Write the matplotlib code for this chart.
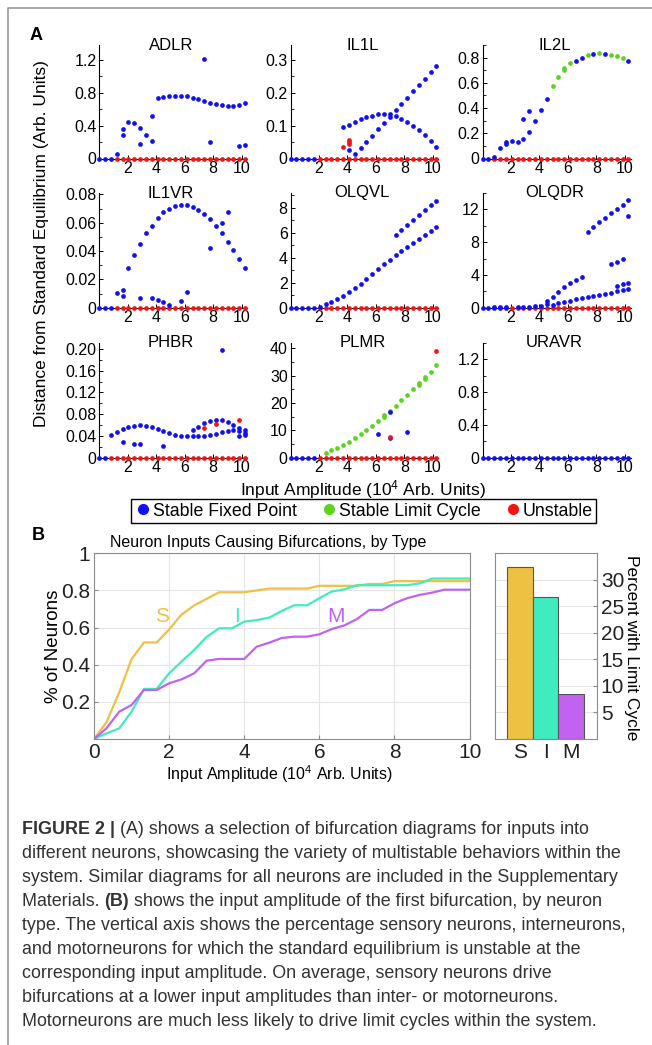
import matplotlib
matplotlib.use('Agg')
import matplotlib.pyplot as plt
from matplotlib.lines import Line2D
from matplotlib.ticker import AutoMinorLocator

plt.rcParams['font.family'] = ['Liberation Sans', 'DejaVu Sans']
plt.rcParams['mathtext.fontset'] = 'custom'
plt.rcParams['mathtext.rm'] = 'Liberation Sans'
plt.rcParams['mathtext.it'] = 'Liberation Sans:italic'
plt.rcParams['mathtext.bf'] = 'Liberation Sans:bold'

W, H = 652, 1045

# input amplitude grid of the bifurcation diagrams (10^4 arb. units)
amp = [0.0, 0.41, 0.82, 1.23, 1.64, 2.05, 2.46, 2.87, 3.28, 3.69, 4.1, 4.51, 4.92,
       5.33, 5.74, 6.15, 6.56, 6.97, 7.38, 7.79, 8.2, 8.61, 9.02, 9.43, 9.84, 10.25]

# --- panel A data: (grid index, distance) pairs -----------------------------
adlr_fixed = [(3, .05), (4, .36), (4, .29), (5, .44), (6, .43), (7, .37), (7, .18), (8, .29),
              (9, .52), (9, .21), (10, .73), (11, .75), (12, .76), (13, .76), (14, .76),
              (15, .755), (16, .74), (17, .72), (18, .70), (18, 1.21), (19, .68), (19, .20),
              (20, .66), (21, .65), (22, .64), (23, .635), (24, .645), (24, .15), (25, .675),
              (25, .16)]

il1l_fixed = [(9, .097), (10, .103), (11, .112), (12, .12), (13, .126), (14, .13), (15, .134),
              (16, .135), (17, .134), (18, .128), (19, .121), (20, .112), (21, .1), (22, .087),
              (23, .072), (24, .054), (25, .036),
              (10, .026), (11, .015), (12, .033), (13, .05), (14, .069), (15, .09), (16, .108),
              (17, .126), (18, .146), (19, .167), (20, .185), (21, .205), (22, .224), (23, .242),
              (24, .263), (25, .282)]
il1l_unstable = [(9, .035), (10, .043), (10, .05), (10, .055)]

il2l_fixed = [(2, .01), (3, .08), (4, .117), (4, .13), (5, .138), (6, .132), (7, .156), (7, .31),
              (8, .21), (8, .373), (9, .297), (10, .387), (11, .47), (16, .775), (17, .80),
              (19, .83), (21, .83), (25, .77)]
il2l_cycle = [(12, .575), (13, .645), (14, .70), (14, .72), (15, .755), (18, .82), (20, .84),
              (22, .82), (23, .81), (24, .80)]

il1vr_fixed = [(5, .0278), (6, .0372), (7, .045), (8, .0525), (9, .058), (10, .0635), (11, .0675),
               (12, .0700), (13, .0718), (14, .0725), (15, .0722), (16, .0708), (17, .0687),
               (18, .0661), (19, .0624), (20, .0576), (21, .0525), (22, .0466), (23, .0405),
               (24, .0341), (25, .028),
               (3, .0101), (4, .0122), (4, .0082), (7, .0066), (9, .0066), (10, .0054), (11, .004),
               (12, .002), (14, .005), (15, .0108), (19, .0424), (21, .0595), (22, .0678)]

olqvl_fixed = [(5, .08), (6, .27), (7, .48), (8, .67), (9, .94), (10, 1.24), (11, 1.57), (12, 1.94),
               (13, 2.31), (14, 2.71), (15, 3.11), (16, 3.49), (17, 3.84), (18, 4.19), (19, 4.51),
               (20, 4.86), (21, 5.21), (22, 5.53), (23, 5.85), (24, 6.12), (25, 6.47),
               (18, 5.85), (19, 6.26), (20, 6.66), (21, 7.06), (22, 7.46), (23, 7.87), (24, 8.21),
               (25, 8.59)]

olqdr_fixed = [(2, .1), (3, .12), (4, .05), (6, .05), (7, .12), (8, .12), (9, .15), (10, .25),
               (11, .5), (11, .8),
               (12, .33), (13, .53), (14, .69), (15, .86), (16, 1.02), (17, 1.14), (18, 1.31),
               (19, 1.43), (20, 1.55), (21, 1.71), (22, 1.84), (23, 2.04), (24, 2.16), (25, 2.33),
               (12, 1.35), (13, 1.92), (14, 2.49), (15, 3.06), (16, 3.39), (17, 3.8),
               (23, 2.65), (24, 2.86), (25, 3.06), (22, 5.3), (23, 5.63), (24, 5.92),
               (18, 9.22), (19, 9.84), (20, 10.4), (21, 10.94), (22, 11.55), (23, 12.04),
               (24, 12.57), (25, 13.1), (25, 11.14)]

phbr_fixed = [(2, .042), (3, .048), (4, .053), (5, .056), (6, .058), (7, .0597), (8, .058),
              (9, .056), (10, .052), (11, .049), (12, .045), (13, .042), (14, .040), (15, .039),
              (16, .039), (17, .039), (18, .039), (19, .041), (20, .044), (21, .047), (22, .050),
              (23, .051), (24, .049), (25, .046),
              (16, .051), (17, .057), (18, .063), (19, .068), (20, .07), (21, .07), (22, .066),
              (23, .06), (24, .054), (25, .051),
              (4, .028), (6, .026), (7, .025), (11, .022), (21, .198), (24, .04), (25, .042)]
phbr_unstable = [(18, .054), (20, .0615), (24, .0695)]

plmr_fixed = [(15, 8.66), (17, 16.8), (17, 7.07), (20, 9.27)]
plmr_cycle = [(6, 1.83), (7, 2.8), (8, 3.66), (9, 4.6), (10, 5.85), (11, 7.07), (12, 8.66),
              (13, 10.1), (14, 11.7), (15, 13.4), (16, 15.0), (16, 15.6), (17, 17.2), (18, 19.0),
              (19, 21.0), (20, 22.9), (21, 25.0), (22, 26.8), (22, 27.4), (23, 28.7), (23, 29.6),
              (24, 31.5), (25, 33.9)]
plmr_unstable = [(17, 7.7), (25, 39.1)]

# --- panel B data -----------------------------------------------------------
amp_b = [0, 0.33, 0.67, 1, 1.33, 1.67, 2, 2.33, 2.67, 3, 3.33, 3.67, 4, 4.33, 4.67, 5,
         5.33, 5.67, 6, 6.33, 6.67, 7, 7.33, 7.67, 8, 8.33, 8.67, 9, 9.33, 9.67, 10]
frac_s = [0, .09, .25, .43, .52, .52, .59, .67, .72, .755, .79, .79, .79, .80, .81, .81,
          .81, .81, .825, .825, .825, .825, .835, .835, .85, .85, .85, .85, .85, .85, .85]
frac_i = [0, .03, .057, .147, .27, .27, .354, .417, .48, .55, .596, .596, .632, .64, .654, .69,
          .72, .72, .758, .794, .806, .828, .828, .828, .828, .828, .838, .864, .864, .864, .864]
frac_m = [0, .057, .147, .183, .264, .264, .30, .321, .354, .422, .431, .431, .431, .497, .519,
          .544, .551, .551, .564, .592, .612, .646, .695, .695, .731, .758, .776, .788, .804,
          .804, .804]
types = ['S', 'I', 'M']
limit_cycle_pct = [32.5, 26.7, 8.5]

BLUE, GREEN, RED = '#1010f5', '#5fd21e', '#f51212'
C_S, C_I, C_M = '#efc143', '#3fecbd', '#c262f0'
MS = 3.4

fig = plt.figure(figsize=(W / 100, H / 100), dpi=100)


def px_axes(left, top, right, bottom):
    return fig.add_axes([left / W, 1 - bottom / H, (right - left) / W, (bottom - top) / H])


def bif_panel(ax, title, first_unstable, fixed, cycle, unstable, ymax, yticks, ylabels):
    n = len(amp)
    zr = [amp[i] for i in range(n) if i >= first_unstable]
    zb = [amp[i] for i in range(n) if i < first_unstable]
    kw = dict(ls='none', marker='o', ms=MS, mec='none', clip_on=False)
    ax.plot(zr, [0] * len(zr), color=RED, zorder=3, **kw)
    ax.plot(zb, [0] * len(zb), color=BLUE, zorder=3, **kw)
    for pts, c, z in ((cycle, GREEN, 4), (fixed, BLUE, 5), (unstable, RED, 6)):
        if pts:
            ax.plot([amp[i] for i, _ in pts], [v for _, v in pts], color=c, zorder=z, **kw)
    ax.set_xlim(0, 10.4)
    ax.set_ylim(0, ymax)
    ax.set_xticks([2, 4, 6, 8, 10])
    ax.set_xticklabels(['2', '4', '6', '8', '10'])
    ax.set_yticks(yticks)
    ax.set_yticklabels(ylabels)
    ax.yaxis.set_minor_locator(AutoMinorLocator(2))
    ax.tick_params(direction='in', length=3, width=0.7, labelsize=11.5, pad=2)
    ax.tick_params(which='minor', direction='in', length=2, width=0.6)
    for s in ('top', 'right'):
        ax.spines[s].set_visible(False)
    for s in ('left', 'bottom'):
        ax.spines[s].set_linewidth(0.8)
    ax.text(0.485, 1.0, title, transform=ax.transAxes, ha='center', va='center', fontsize=12)


lefts = [99.3, 290.5, 482.5]
rows = [(45, 158.5), (193, 307.7), (343, 457.7)]
width = 148

panels = [
    ('ADLR', 3, adlr_fixed, [], [], 1.38, [0, .4, .8, 1.2], ['0', '0.4', '0.8', '1.2']),
    ('IL1L', 5, il1l_fixed, [], il1l_unstable, 0.345, [0, .1, .2, .3], ['0', '0.1', '0.2', '0.3']),
    ('IL2L', 2, il2l_fixed, il2l_cycle, [], 0.9, [0, .2, .4, .6, .8],
     ['0', '0.2', '0.4', '0.6', '0.8']),
    ('IL1VR', 3, il1vr_fixed, [], [], 0.081, [0, .02, .04, .06, .08],
     ['0', '0.02', '0.04', '0.06', '0.08']),
    ('OLQVL', 5, olqvl_fixed, [], [], 9.2, [0, 2, 4, 6, 8], ['0', '2', '4', '6', '8']),
    ('OLQDR', 5, olqdr_fixed, [], [], 14, [0, 4, 8, 12], ['0', '4', '8', '12']),
    ('PHBR', 2, phbr_fixed, [], phbr_unstable, 0.211, [0, .04, .08, .12, .16, .2],
     ['0', '0.04', '0.08', '0.12', '0.16', '0.20']),
    ('PLMR', 5, plmr_fixed, plmr_cycle, plmr_unstable, 42, [0, 10, 20, 30, 40],
     ['0', '10', '20', '30', '40']),
    ('URAVR', 26, [], [], [], 1.4, [0, .4, .8, 1.2], ['0', '0.4', '0.8', '1.2']),
]

for k, p in enumerate(panels):
    top, bot = rows[k // 3]
    left = lefts[k % 3]
    ax = px_axes(left, top, left + width, bot)
    bif_panel(ax, *p)

fig.text(36 / W, 1 - 35 / H, 'A', fontsize=13, fontweight='bold', ha='center', va='center')
fig.text(42 / W, 1 - 244 / H, 'Distance from Standard Equilibrium (Arb. Units)', rotation=90,
         ha='center', va='center', fontsize=12.5)
fig.text(363 / W, 1 - 490 / H, 'Input Amplitude (10$^4$ Arb. Units)', ha='center', va='center',
         fontsize=12.5)

handles = [Line2D([], [], ls='none', marker='o', ms=8, mec='none', color=c)
           for c in (BLUE, GREEN, RED)]
leg = fig.legend(handles, ['Stable Fixed Point', 'Stable Limit Cycle', 'Unstable'],
                 loc='center', bbox_to_anchor=(363.5 / W, 1 - 511 / H), ncol=3, fontsize=12.8,
                 frameon=True, fancybox=False, edgecolor='black', framealpha=1,
                 handletextpad=0.05, columnspacing=1.3, borderpad=0.2, handlelength=1.0,
                 borderaxespad=0)
leg.get_frame().set_linewidth(1.0)

# --- panel B ----------------------------------------------------------------
GRID = '#e4e4e4'
BOX = '#8c8c8c'
axb = px_axes(94, 553.3, 469.6, 739)
axb.plot(amp_b, frac_s, color=C_S, lw=1.6)
axb.plot(amp_b, frac_i, color=C_I, lw=1.6)
axb.plot(amp_b, frac_m, color=C_M, lw=1.6)
axb.set_xlim(0, 10)
axb.set_ylim(0, 1)
axb.set_xticks([0, 2, 4, 6, 8, 10])
axb.set_xticklabels(['0', '2', '4', '6', '8', '10'])
axb.set_yticks([.2, .4, .6, .8, 1])
axb.set_yticklabels(['0.2', '0.4', '0.6', '0.8', '1'])
axb.grid(True, color=GRID, lw=0.8)
axb.set_axisbelow(True)
axb.tick_params(direction='in', length=3, color=BOX, labelsize=15, pad=3, labelcolor='#222222')
for s in axb.spines.values():
    s.set_color(BOX)
    s.set_linewidth(0.8)
for lab, c, x in zip(types, (C_S, C_I, C_M), (1.82, 3.82, 6.43)):
    axb.text(x, 0.66, lab, color=c, fontsize=15, ha='center', va='center')

axc = px_axes(494.6, 553.3, 596.7, 739)
axc.bar([1, 2, 3], limit_cycle_pct, width=1, color=[C_S, C_I, C_M], edgecolor='#555555',
        linewidth=0.8)
axc.set_xlim(0, 4)
axc.set_ylim(0, 35)
axc.set_xticks([1, 2, 3])
axc.set_xticklabels(types)
axc.yaxis.tick_right()
axc.set_yticks([5, 10, 15, 20, 25, 30])
axc.set_yticklabels(['5', '10', '15', '20', '25', '30'])
axc.grid(True, axis='y', color=GRID, lw=0.8)
axc.set_axisbelow(True)
axc.tick_params(direction='in', length=3, color=BOX, labelsize=15, pad=3, labelcolor='#222222')
axc.tick_params(axis='x', length=0)
for s in axc.spines.values():
    s.set_color(BOX)
    s.set_linewidth(0.8)

fig.text(38.5 / W, 1 - 536 / H, 'B', fontsize=13, fontweight='bold', ha='center', va='center')
fig.text(268 / W, 1 - 542 / H, 'Neuron Inputs Causing Bifurcations, by Type', ha='center',
         va='center', fontsize=11.5)
fig.text(54 / W, 1 - 646 / H, '% of Neurons', rotation=90, ha='center', va='center',
         fontsize=13.5)
fig.text(279 / W, 1 - 774 / H, 'Input Amplitude (10$^4$ Arb. Units)', ha='center', va='center',
         fontsize=11.5)
fig.text(631 / W, 1 - 648 / H, 'Percent with Limit Cycle', rotation=-90, ha='center',
         va='center', fontsize=12.5)

# --- caption ----------------------------------------------------------------
caption = [
    [('FIGURE 2 |', True), (' (A) shows a selection of bifurcation diagrams for inputs into', False)],
    [('different neurons, showcasing the variety of multistable behaviors within the', False)],
    [('system. Similar diagrams for all neurons are included in the Supplementary', False)],
    [('Materials. ', False), ('(B)', True),
     (' shows the input amplitude of the first bifurcation, by neuron', False)],
    [('type. The vertical axis shows the percentage sensory neurons, interneurons,', False)],
    [('and motorneurons for which the standard equilibrium is unstable at the', False)],
    [('corresponding input amplitude. On average, sensory neurons drive', False)],
    [('bifurcations at a lower input amplitudes than inter- or motorneurons.', False)],
    [('Motorneurons are much less likely to drive limit cycles within the system.', False)],
]
renderer = fig.canvas.get_renderer()
for n, parts in enumerate(caption):
    x = 22
    y = 829 + 24 * n
    for text, bold in parts:
        t = fig.text(x / W, 1 - y / H, text, fontsize=12.9, color='#333333',
                     fontweight='bold' if bold else 'normal', ha='left', va='center')
        x += t.get_window_extent(renderer).width

# frame round the figure
fig.add_artist(Line2D([8 / W, 8 / W, 1], [0, 1 - 8 / H, 1 - 8 / H], color='#9a9a9a', lw=1.2,
                      transform=fig.transFigure))

fig.savefig('out.png', dpi=100)
